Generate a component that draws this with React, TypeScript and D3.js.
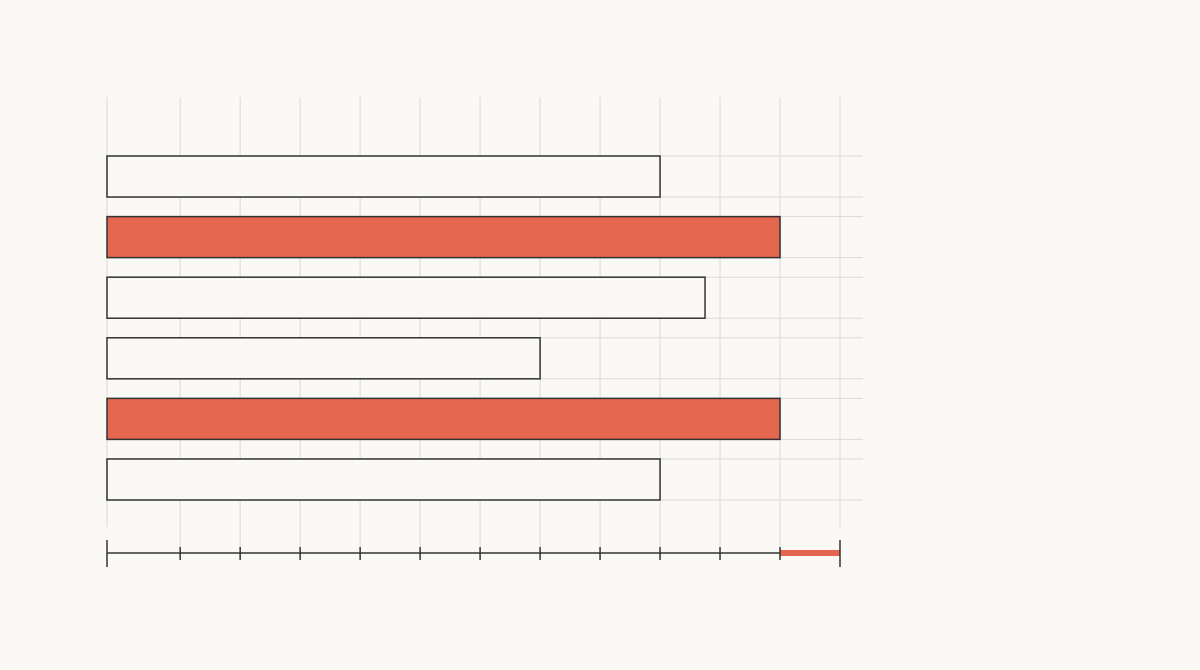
import React, { useEffect, useRef } from 'react';
import * as d3 from 'd3';

// categories top to bottom, values in axis units, which bars are highlighted
const categories = ['A', 'B', 'C', 'D', 'E', 'F'];
const values = [9, 11, 9.75, 7, 11, 9];
const highlighted = [false, true, false, false, true, false];
const tickValues = [1, 2, 3, 4, 5, 6, 7, 8, 9, 10, 11];
const xMin = -0.22;
const xMax = 12;
const markedRange = [11, 12];

const W = 1200;
const H = 670;
const BG = '#faf9f6';
const RED = '#e4664f';
const INK = '#333333';
const GRID = '#dcdad5';

export default function App() {
    const ref = useRef<SVGSVGElement | null>(null);

    useEffect(() => {
        if (!ref.current) return;
        const svg = d3.select(ref.current);
        svg.selectAll('*').remove();

        const x = d3.scaleLinear([xMin, xMax], [107, 840]);
        const y = d3.scaleBand(categories, [156, 500]).paddingInner(0.323).paddingOuter(0);
        const axisY = 553;
        const gridTop = 97;
        const gridRight = 863;

        svg.append('rect').attr('width', W).attr('height', H).attr('fill', BG);

        const grid = svg.append('g').attr('stroke', GRID).attr('stroke-width', 1);

        // horizontal grid lines along bar edges
        categories.forEach(c => {
            [y(c)!, y(c)! + y.bandwidth()].forEach(yy => {
                grid.append('line')
                    .attr('x1', x(xMin)).attr('x2', gridRight)
                    .attr('y1', yy).attr('y2', yy);
            });
        });

        // vertical grid lines
        grid.selectAll('line.v')
            .data(tickValues)
            .join('line')
            .attr('class', 'v')
            .attr('x1', d => x(d)).attr('x2', d => x(d))
            .attr('y1', gridTop).attr('y2', axisY - 6);
        [xMin, xMax].forEach(v => {
            grid.append('line')
                .attr('x1', x(v)).attr('x2', x(v))
                .attr('y1', gridTop).attr('y2', axisY - 26);
        });

        // bars
        svg.append('g')
            .selectAll('rect')
            .data(categories)
            .join('rect')
            .attr('x', x(xMin))
            .attr('y', d => y(d)!)
            .attr('width', (_d, i) => x(values[i]) - x(xMin))
            .attr('height', y.bandwidth())
            .attr('fill', (_d, i) => highlighted[i] ? RED : BG)
            .attr('stroke', INK)
            .attr('stroke-width', 1.5);

        // axis
        const axis = svg.append('g');
        axis.append('line')
            .attr('x1', x(xMin)).attr('x2', x(xMax))
            .attr('y1', axisY).attr('y2', axisY)
            .attr('stroke', INK).attr('stroke-width', 1.5);
        axis.append('line')
            .attr('x1', x(markedRange[0])).attr('x2', x(markedRange[1]))
            .attr('y1', axisY).attr('y2', axisY)
            .attr('stroke', RED).attr('stroke-width', 6);
        axis.selectAll('line.tick')
            .data(tickValues)
            .join('line')
            .attr('class', 'tick')
            .attr('x1', d => x(d)).attr('x2', d => x(d))
            .attr('y1', axisY - 6).attr('y2', axisY + 7)
            .attr('stroke', INK).attr('stroke-width', 1.5);
        [xMin, xMax].forEach(v => {
            axis.append('line')
                .attr('x1', x(v)).attr('x2', x(v))
                .attr('y1', axisY - 13).attr('y2', axisY + 14)
                .attr('stroke', INK).attr('stroke-width', 1.5);
        });
    }, []);

    return (
        <div style={{ position: 'fixed', left: 0, top: 0, width: W, height: H, background: BG }}>
            <svg ref={ref} width={W} height={H} style={{ display: 'block' }} />
        </div>
    );
}
